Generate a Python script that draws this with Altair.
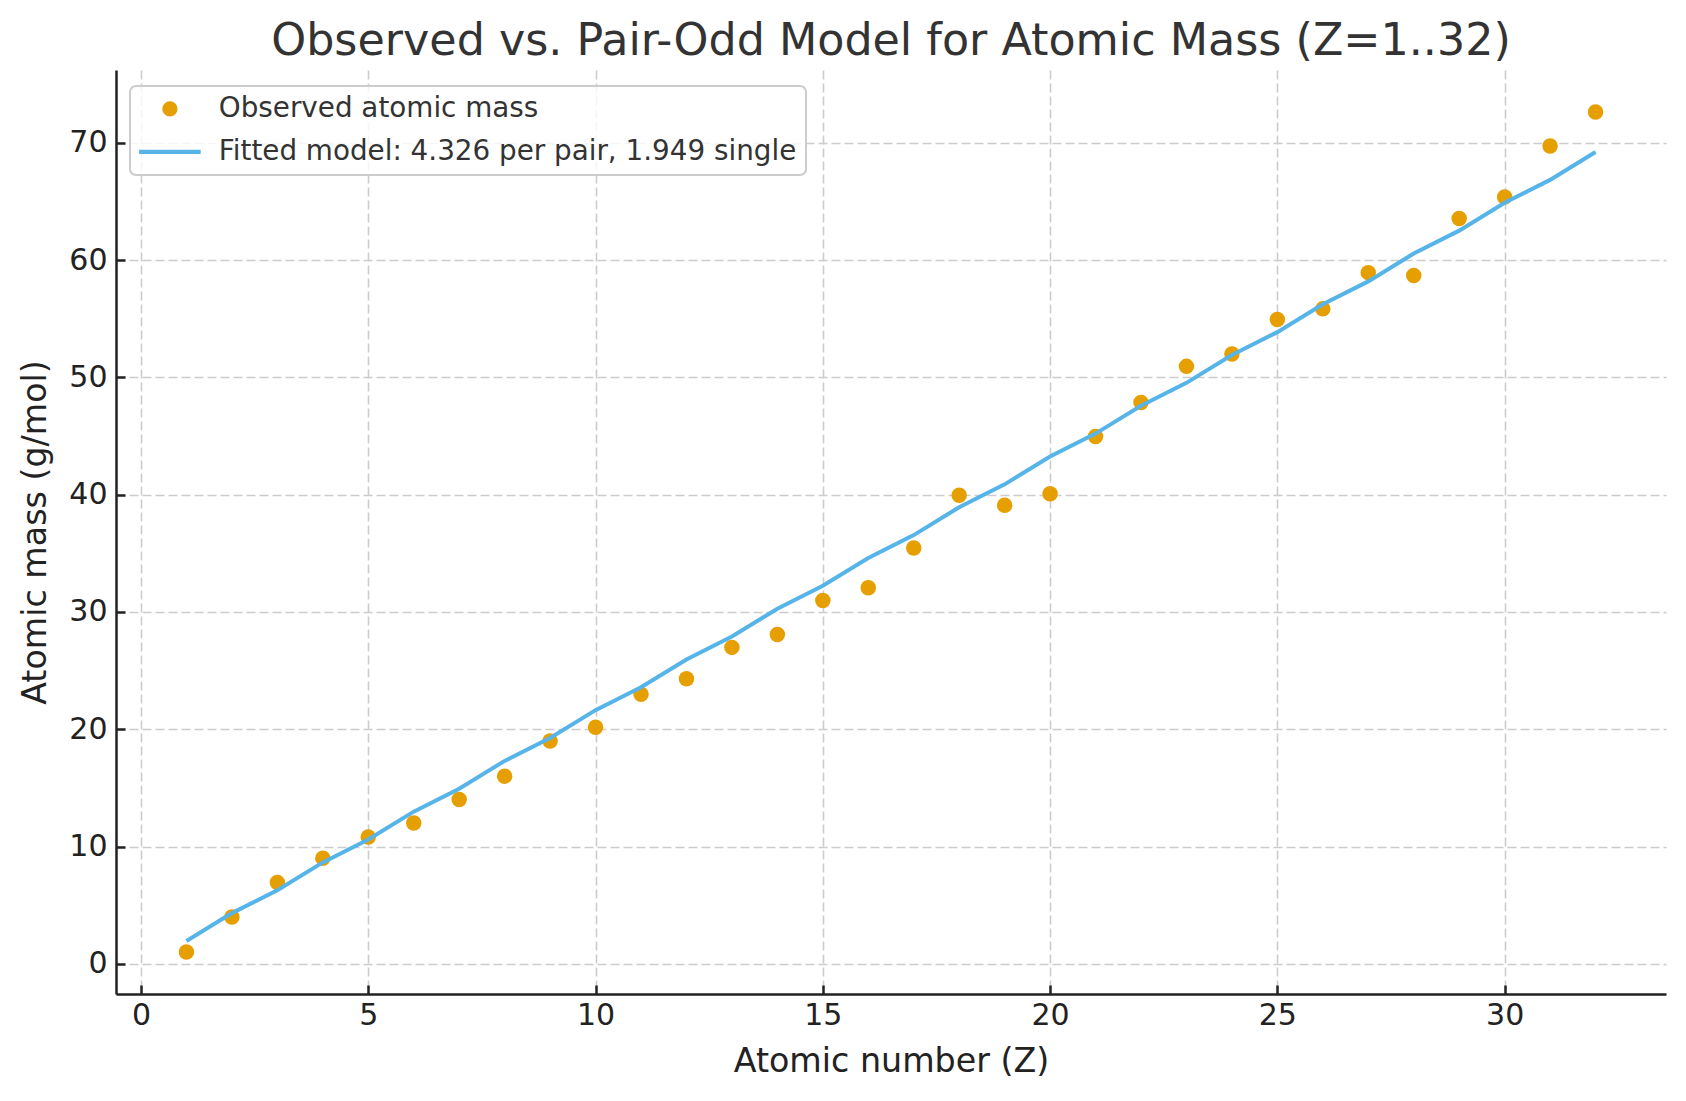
import altair as alt
import pandas as pd

Z = [1, 2, 3, 4, 5, 6, 7, 8, 9, 10, 11, 12, 13, 14, 15, 16,
     17, 18, 19, 20, 21, 22, 23, 24, 25, 26, 27, 28, 29, 30, 31, 32]
observed = [1.008, 4.003, 6.94, 9.012, 10.81, 12.011, 14.007, 15.999,
            18.998, 20.180, 22.990, 24.305, 26.982, 28.085, 30.974, 32.06,
            35.45, 39.948, 39.098, 40.078, 44.956, 47.867, 50.942, 51.996,
            54.938, 55.845, 58.933, 58.693, 63.546, 65.38, 69.723, 72.630]
model = [1.949, 4.326, 6.275, 8.652, 10.601, 12.978, 14.927, 17.304,
         19.253, 21.630, 23.579, 25.956, 27.905, 30.282, 32.231, 34.608,
         36.557, 38.934, 40.883, 43.260, 45.209, 47.586, 49.535, 51.912,
         53.861, 56.238, 58.187, 60.564, 62.513, 64.890, 66.839, 69.216]

OBS = "Observed atomic mass"
MOD = "Fitted model: 4.326 per pair, 1.949 single"
x_ticks = [0, 5, 10, 15, 20, 25, 30]
y_ticks = [0, 10, 20, 30, 40, 50, 60, 70]

df_obs = pd.DataFrame({"Z": Z, "mass": observed, "series": [OBS] * len(Z)})
df_mod = pd.DataFrame({"Z": Z, "mass": model})

FONT = "DejaVu Sans"
ORANGE = "#E69F00"
BLUE = "#56B4E9"
LINE_PATH = "M-4.06,-0.27H4.06V0.27H-4.06Z"

common_axis = dict(
    grid=True, gridColor="#cccccc", gridDash=[9, 4], gridWidth=1.6,
    domainColor="#222222", domainWidth=2.5,
    tickColor="#222222", tickWidth=2.5, tickSize={"expr": "-9"},
    labelFont=FONT, labelFontSize=30, labelColor="#222222",
    titleFont=FONT, titleFontSize=33.3, titleFontWeight="normal", titleColor="#222222",
    labelOverlap=False,
)

x_enc = alt.X("Z:Q", scale=alt.Scale(domain=[-0.55, 33.55], nice=False, zero=False),
              axis=alt.Axis(values=x_ticks, format="d", title="Atomic number (Z)",
                            labelPadding=15.5, titlePadding=15, labelFlush=False, **common_axis))
y_enc = alt.Y("mass:Q", scale=alt.Scale(domain=[-2.57, 76.21], nice=False, zero=False),
              axis=alt.Axis(values=y_ticks, format="d", title="Atomic mass (g/mol)",
                            labelPadding=18, titlePadding=16, **common_axis))


def make_legend():
    return alt.Legend(
        title=None, orient="none", legendX=14, legendY=16,
        labelFont=FONT, labelFontSize=27.8, labelColor="#333333", labelLimit=1000,
        symbolSize=230, symbolStrokeWidth=0, symbolOffset=17, labelOffset=35,
        rowPadding=14, padding=9, strokeColor="#cccccc",
        fillColor="rgba(255,255,255,0.8)", cornerRadius=6, symbolOpacity=1,
    )


points = alt.Chart(df_obs).mark_point(filled=True, size=240, opacity=1).encode(
    x=x_enc, y=y_enc,
    color=alt.Color("series:N", scale=alt.Scale(domain=[OBS, MOD], range=[ORANGE, BLUE]),
                    legend=make_legend()),
    shape=alt.Shape("series:N", scale=alt.Scale(domain=[OBS, MOD], range=["circle", LINE_PATH]),
                    legend=make_legend()),
)
line = alt.Chart(df_mod).mark_line(color=BLUE, strokeWidth=4).encode(x="Z:Q", y="mass:Q")

chart = alt.layer(points, line).properties(
    width=1550, height=924,
    title=alt.Title("Observed vs. Pair-Odd Model for Atomic Mass (Z=1..32)",
                    font=FONT, fontSize=44.4, fontWeight="normal", color="#333333",
                    anchor="middle", baseline="alphabetic", offset=15, dy=44),
    autosize=alt.AutoSizeParams(type="none"),
    padding={"left": 108, "top": 62, "right": 10, "bottom": 95},
    background="white",
).configure_view(stroke="transparent").configure_legend(strokeWidth=2)

chart.save("out.html", embed_options={"renderer": "svg", "actions": False})
